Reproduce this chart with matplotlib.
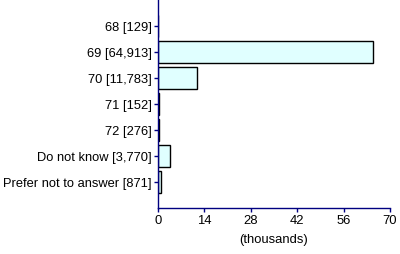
import matplotlib
matplotlib.use("Agg")
import matplotlib.pyplot as plt

plt.rcParams['font.family'] = ['Liberation Sans', 'DejaVu Sans']

# categorias y valores (en miles)
labels = ["68 [129]", "69 [64,913]", "70 [11,783]", "71 [152]", "72 [276]",
          "Do not know [3,770]", "Prefer not to answer [871]"]
values = [0.129, 64.913, 11.783, 0.152, 0.276, 3.770, 0.871]
xticks = [0, 14, 28, 42, 56, 70]

fig = plt.figure(figsize=(4, 2.54), dpi=100)
ax = fig.add_axes([0.395, 0.181, 0.58, 0.819])

pos = list(range(len(labels)))
ax.barh(pos, values, height=0.85, color="#E0FFFF", edgecolor="black", linewidth=1)

ax.set_ylim(len(labels), -1)
ax.set_xlim(0, 70)
ax.set_xticks(xticks)
ax.set_yticks(pos)
ax.set_yticklabels(labels)
ax.set_xlabel("(thousands)", fontsize=9.4, labelpad=5)

for s in ["top", "right"]:
    ax.spines[s].set_visible(False)
for s in ["left", "bottom"]:
    ax.spines[s].set_color("#000080")
    ax.spines[s].set_linewidth(1)
ax.tick_params(axis="y", colors="#000080", labelcolor="black", labelsize=9.3,
               length=3, width=1, pad=1.5)
ax.tick_params(axis="x", colors="#000080", labelcolor="black", labelsize=9.4,
               length=3, width=1, pad=2)

fig.savefig("out.png", dpi=100)
